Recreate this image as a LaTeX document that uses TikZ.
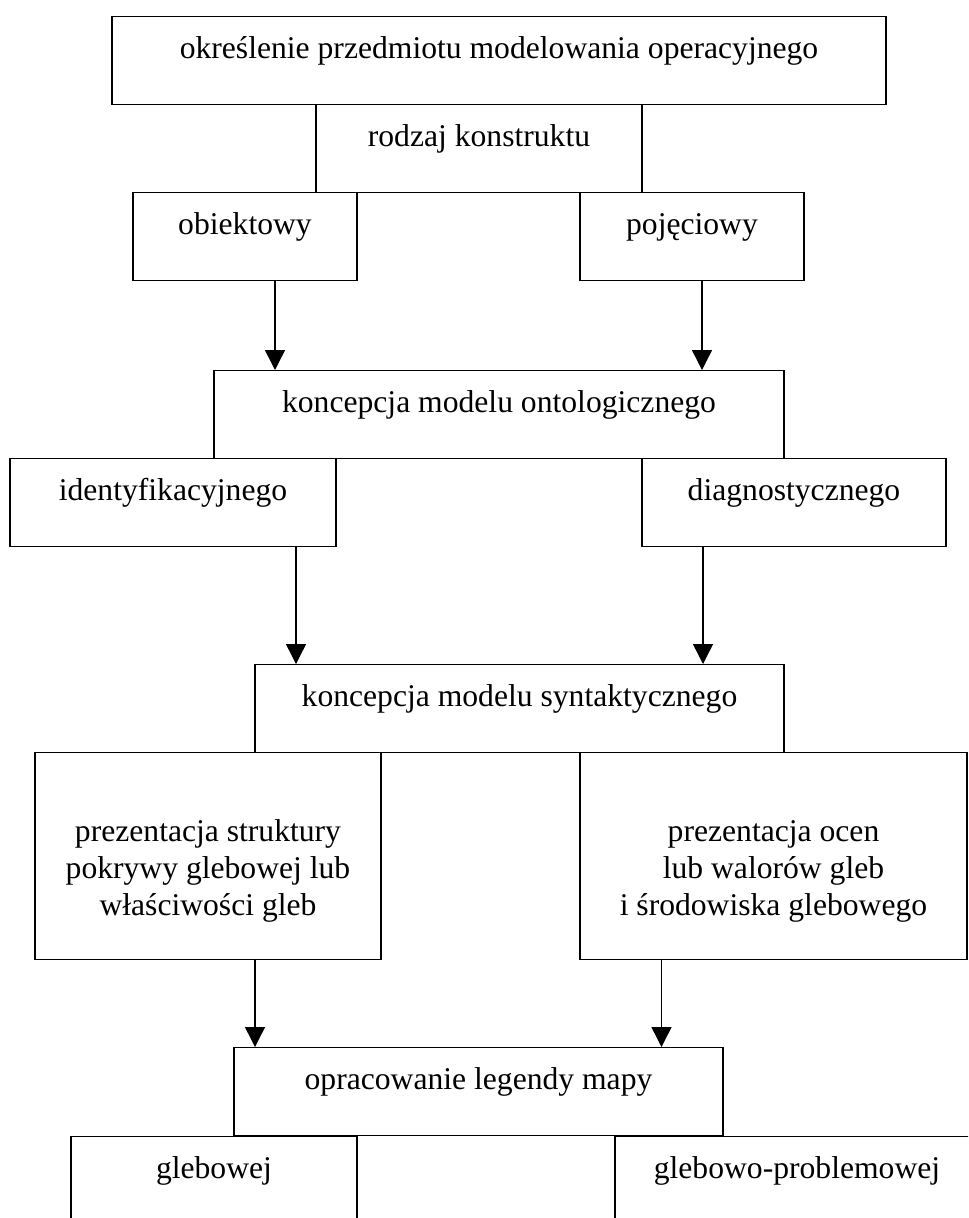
\documentclass[tikz,border=0pt]{standalone}
\usepackage{fontspec}
\setmainfont{Liberation Serif}
\usetikzlibrary{arrows.meta}
\newlength{\unitpx}
\setlength{\unitpx}{0.02cm}

\begin{document}
\begin{tikzpicture}[x=0.02cm, y=-0.02cm,
    blok/.style={draw, line width=0.8pt, inner sep=0pt, anchor=north,
        font=\fontsize{18}{21}\selectfont, text height=42\unitpx, text depth=46\unitpx},
    duzy/.style={draw, line width=0.8pt, inner sep=0pt, anchor=north,
        font=\fontsize{18}{21}\selectfont, align=center, minimum height=207\unitpx},
    strz/.style={line width=0.8pt, -{Triangle[length=0.4cm, width=0.4cm]}}]
                        \clip (0,0) rectangle (968,1218);
                        % bloki
                        \node[blok, minimum width=774\unitpx] (okr) at (499,16) {określenie przedmiotu modelowania operacyjnego};
                        \node[blok, minimum width=326\unitpx] (rodz) at (479,104) {rodzaj konstruktu};
                        \node[blok, minimum width=224\unitpx] (obj) at (245,192) {obiektowy};
                        \node[blok, minimum width=224\unitpx] (poj) at (692,192) {pojęciowy};
                        \node[blok, minimum width=570\unitpx] (onto) at (499,370) {koncepcja modelu ontologicznego};
                        \node[blok, minimum width=326\unitpx] (ident) at (173,458) {identyfikacyjnego};
                        \node[blok, minimum width=304\unitpx] (diag) at (794,458) {diagnostycznego};
                        \node[blok, minimum width=529\unitpx] (synt) at (519.5,664) {koncepcja modelu syntaktycznego};
                        \node[duzy, minimum width=346\unitpx] (strukt) at (208,752) {\rule{0pt}{52\unitpx}prezentacja struktury\\pokrywy glebowej lub\\właściwości gleb};
                        \node[duzy, minimum width=387\unitpx] (oceny) at (773.5,752) {\rule{0pt}{52\unitpx}prezentacja ocen\\lub walorów gleb\\i środowiska glebowego};
                        \node[blok, minimum width=489\unitpx] (legenda) at (478.5,1047) {opracowanie legendy mapy};
                        \node[blok, minimum width=286\unitpx] (gleb) at (214,1136) {glebowej};
                        \node[blok, minimum width=364\unitpx] (glprob) at (797,1136) {glebowo-problemowej};
                        % poczatki strzalek
                        \coordinate (s1) at ([xshift=30\unitpx]obj.south);
                        \coordinate (s2) at ([xshift=10\unitpx]poj.south);
                        \coordinate (s3) at ([xshift=123\unitpx]ident.south);
                        \coordinate (s4) at ([xshift=-91\unitpx]diag.south);
                        \coordinate (s5) at ([xshift=47\unitpx]strukt.south);
                        \coordinate (s6) at ([xshift=-112\unitpx]oceny.south);
                        % strzalki
                        \draw[strz] (s1) -- (s1 |- onto.north);
                        \draw[strz] (s2) -- (s2 |- onto.north);
                        \draw[strz] (s3) -- (s3 |- synt.north);
                        \draw[strz] (s4) -- (s4 |- synt.north);
                        \draw[strz] (s5) -- (s5 |- legenda.north);
                        \draw[strz] (s6) -- (s6 |- legenda.north);
                    \end{tikzpicture}
\end{document}
